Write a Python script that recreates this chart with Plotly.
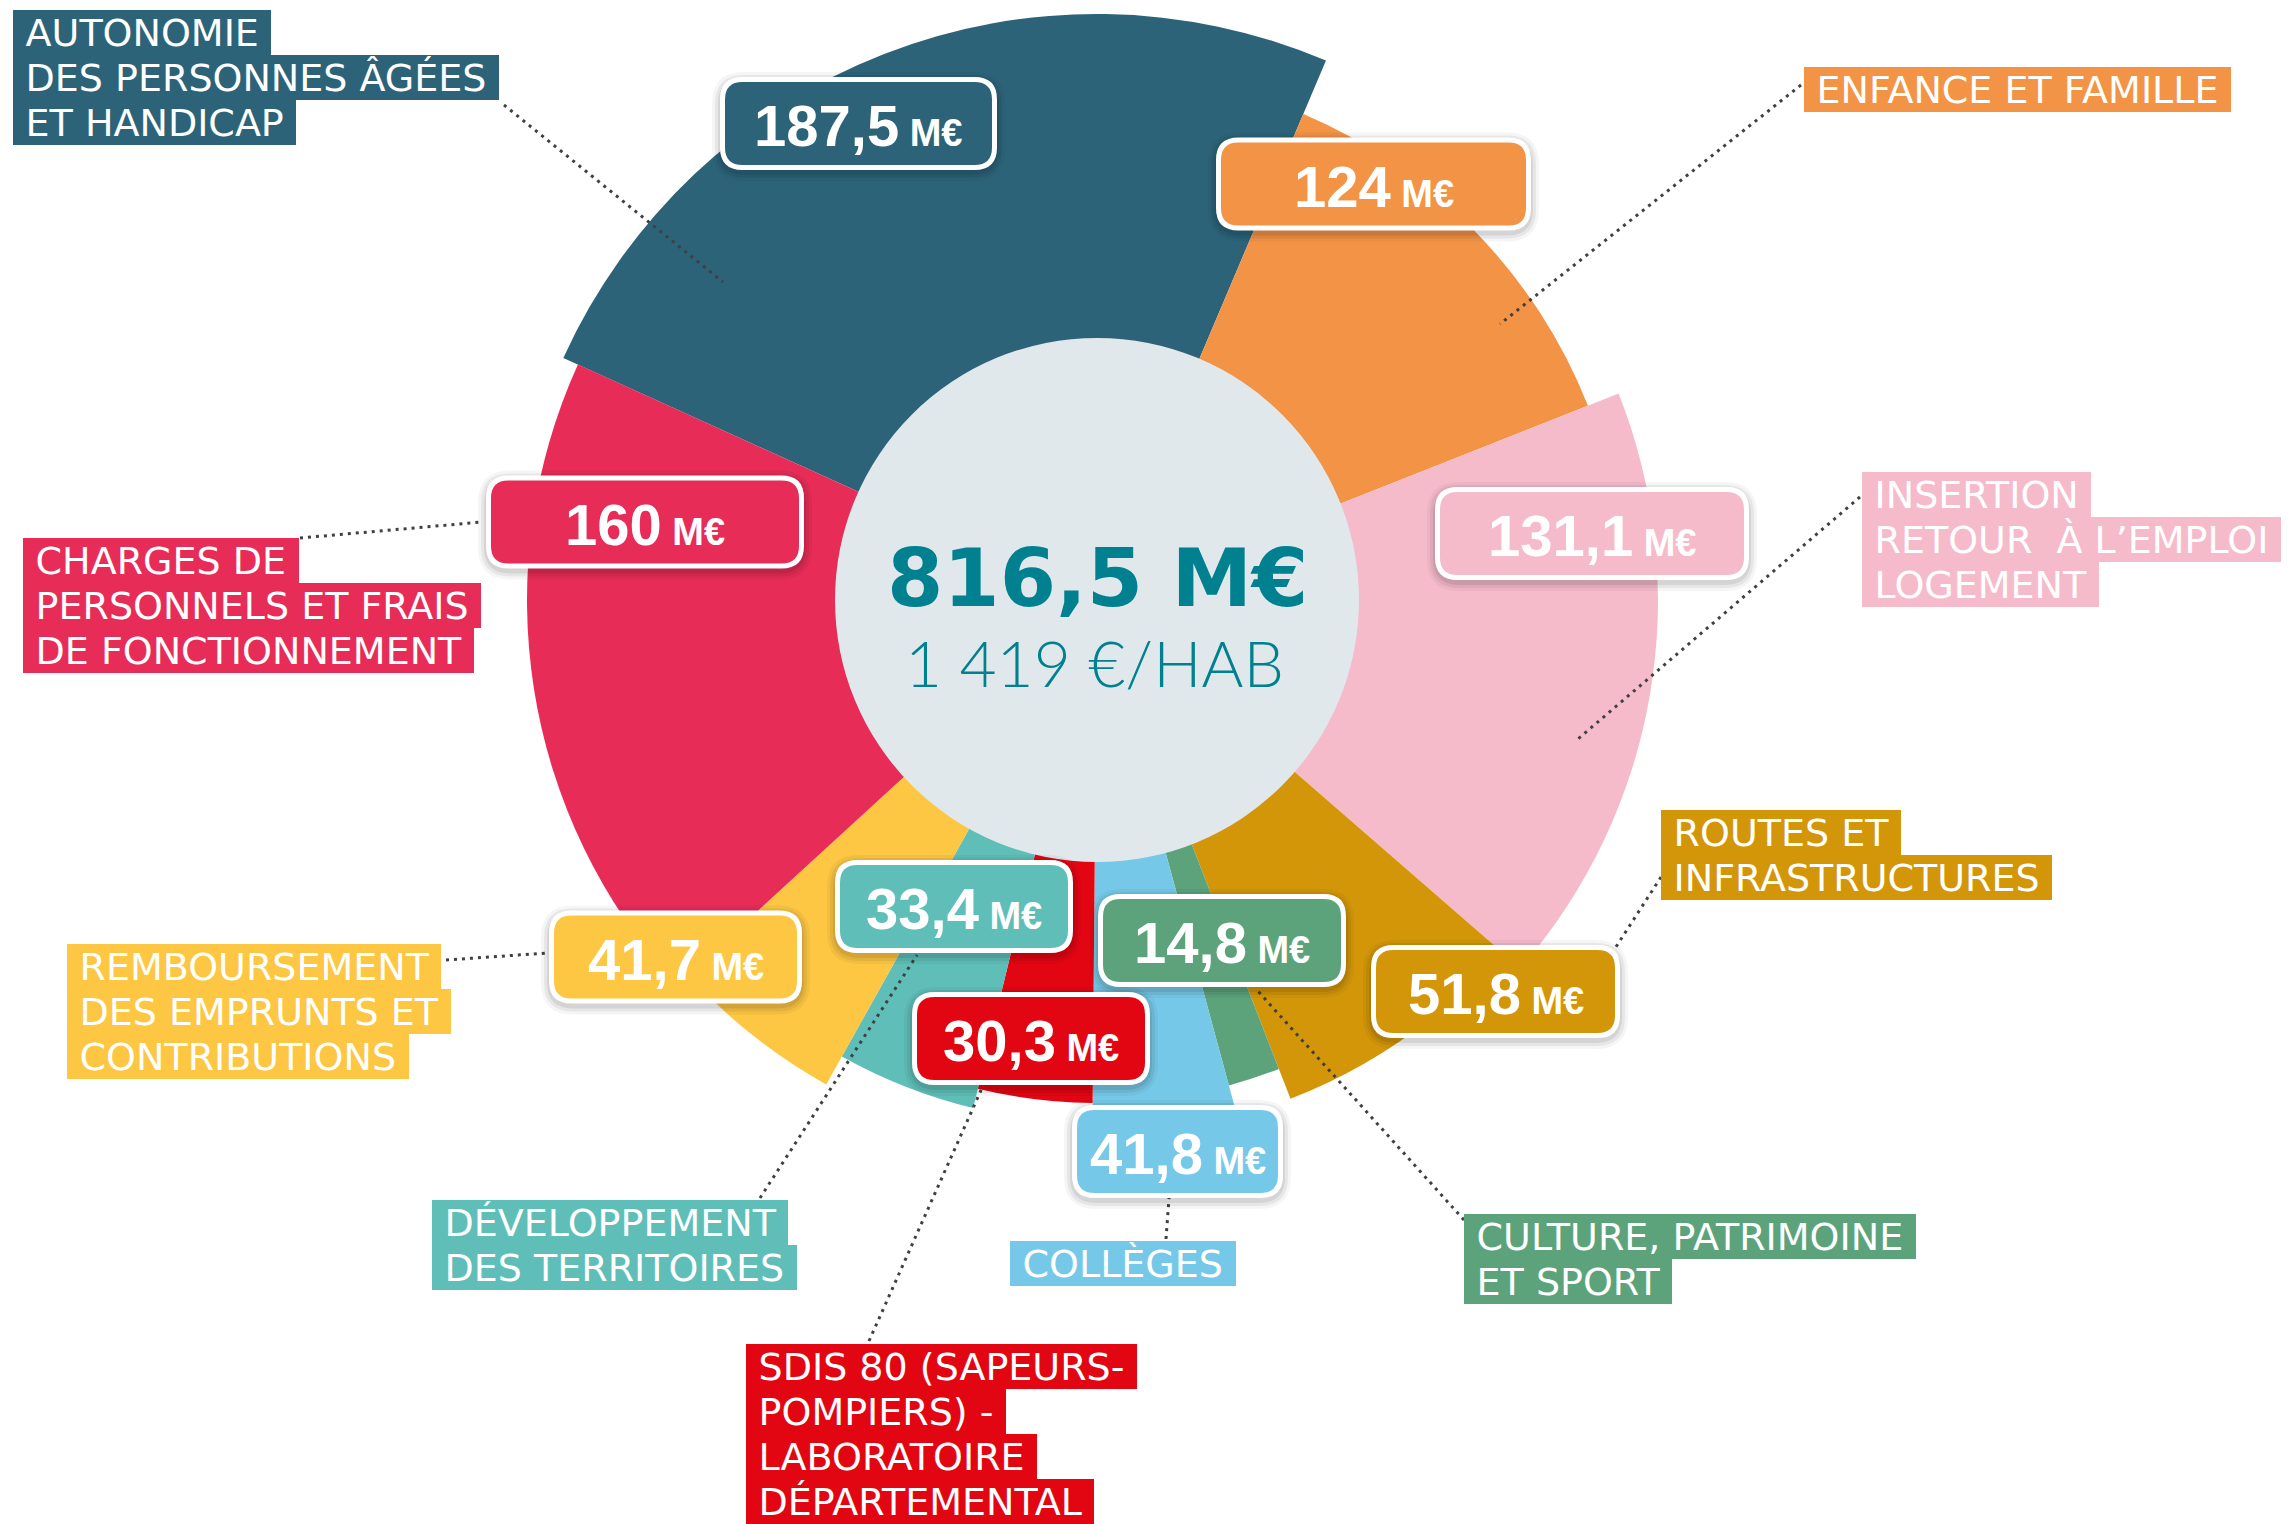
import numpy as np
import plotly.graph_objects as go

W, H = 2291, 1524

# ---------------- data ----------------
categories = [
    "Autonomie des personnes âgées et handicap",
    "Enfance et famille",
    "Insertion retour à l'emploi logement",
    "Routes et infrastructures",
    "Culture, patrimoine et sport",
    "Collèges",
    "SDIS 80 - Laboratoire départemental",
    "Développement des territoires",
    "Remboursement des emprunts et contributions",
    "Charges de personnels et frais de fonctionnement",
]
values_meur = [187.5, 124, 131.1, 51.8, 14.8, 41.8, 30.3, 33.4, 41.7, 160]
value_labels = ["187,5", "124", "131,1", "51,8", "14,8", "41,8", "30,3", "33,4", "41,7", "160"]
arc_span_deg = [88.6, 45.4, 62.6, 27.8, 6.0, 15.7, 13.2, 15.5, 18.3, 66.9]
petal_length = [586, 528, 561, 535, 503, 540, 503, 523, 555, 570]
label_lines = [
    ["AUTONOMIE", "DES PERSONNES ÂGÉES", "ET HANDICAP"],
    ["ENFANCE ET FAMILLE"],
    ["INSERTION", "RETOUR \u00a0À L’EMPLOI", "LOGEMENT"],
    ["ROUTES ET", "INFRASTRUCTURES"],
    ["CULTURE, PATRIMOINE", "ET SPORT"],
    ["COLLÈGES"],
    ["SDIS 80 (SAPEURS-", "POMPIERS) -", "LABORATOIRE", "DÉPARTEMENTAL"],
    ["DÉVELOPPEMENT", "DES TERRITOIRES"],
    ["REMBOURSEMENT", "DES EMPRUNTS ET", "CONTRIBUTIONS"],
    ["CHARGES DE", "PERSONNELS ET FRAIS", "DE FONCTIONNEMENT"],
]
total_label = "816,5 M€"
per_hab_label = "1 419 €/HAB"

# ---------------- styles / layout positions ----------------
colors = ["#2c6379", "#f29345", "#f5bbcb", "#d39609", "#5ca37c",
          "#76c8e8", "#e20613", "#5fbeb8", "#fdc643", "#e62c57"]
start_angle = 294.4
inner_disk_r = 262
disk_color = "#e0e8ec"
teal_text = "#01818f"

# value boxes: center x, center y, width (px)
value_box = [
    (858.5, 123.5, 277), (1373.5, 184, 315), (1592, 533.5, 314),
    (1495.5, 991.5, 249), (1222, 940.5, 248), (1177.5, 1151.5, 211),
    (1031, 1038.5, 238), (954, 906.5, 238), (675.5, 957, 253), (645, 522, 318),
]
BOX_H = 93
# category labels: left x, top y (px)
label_pos = [
    (13, 10), (1804, 67), (1862, 472), (1661, 810), (1464, 1214),
    (1010, 1241), (746, 1344), (432, 1200), (67, 944), (23, 538),
]
LINE_PITCH = 45
# leader lines (px)
leaders = [
    ((504, 105), (723, 282)),
    ((1801, 85), (1500, 324)),
    ((1860, 497), (1578, 739)),
    ((1661, 877), (1614, 950)),
    ((1464, 1220), (1256, 989)),
    ((1166, 1239), (1169, 1198)),
    ((869, 1341), (982, 1088)),
    ((760, 1198), (917, 955)),
    ((446, 960), (548, 953)),
    ((300, 538), (482, 522)),
]


def X(x):
    return x / W


def Y(y):
    return 1 - y / H


spans = np.array(arc_span_deg)
theta_centers = (start_angle + np.cumsum(spans) - spans / 2) % 360

fig = go.Figure()
fig.add_trace(go.Barpolar(
    r=petal_length, theta=theta_centers, width=arc_span_deg,
    marker=dict(color=colors, line=dict(width=0)),
    hoverinfo="skip", showlegend=False,
))
fig.add_trace(go.Barpolar(
    r=[inner_disk_r], theta=[0], width=[360],
    marker=dict(color=disk_color, line=dict(width=0)),
    hoverinfo="skip", showlegend=False,
))

R = 600
cx, cy = 1097, 600
fig.update_layout(
    width=W, height=H,
    margin=dict(l=0, r=0, t=0, b=0),
    paper_bgcolor="white",
    plot_bgcolor="white",
    showlegend=False,
    polar=dict(
        domain=dict(x=[X(cx - R), X(cx + R)], y=[Y(cy + R), Y(cy - R)]),
        bgcolor="rgba(0,0,0,0)",
        radialaxis=dict(visible=False, range=[0, R]),
        angularaxis=dict(visible=False, rotation=90, direction="clockwise"),
        bargap=0,
    ),
)

shapes = []
for (p0, p1) in leaders:
    shapes.append(dict(type="line", xref="paper", yref="paper",
                       x0=X(p0[0]), y0=Y(p0[1]), x1=X(p1[0]), y1=Y(p1[1]),
                       line=dict(color="#404040", width=3, dash="3px,5px"),
                       layer="above"))


def rrect(x0, y0, x1, y1, r):
    pts = [
        ("M", [(x0 + r, y0)]), ("L", [(x1 - r, y0)]), ("Q", [(x1, y0), (x1, y0 + r)]),
        ("L", [(x1, y1 - r)]), ("Q", [(x1, y1), (x1 - r, y1)]),
        ("L", [(x0 + r, y1)]), ("Q", [(x0, y1), (x0, y1 - r)]),
        ("L", [(x0, y0 + r)]), ("Q", [(x0, y0), (x0 + r, y0)]),
    ]
    s = ""
    for cmd, pl in pts:
        s += cmd + " " + " ".join(f"{X(px):.6f},{Y(py):.6f}" for px, py in pl) + " "
    return s + "Z"


annotations = []
for i, (bx, by, bw) in enumerate(value_box):
    x0, x1 = bx - bw / 2, bx + bw / 2
    y0, y1 = by - BOX_H / 2, by + BOX_H / 2
    # soft shadow
    for k, a in [(8, 0.04), (5, 0.06), (2, 0.08)]:
        shapes.append(dict(type="path", xref="paper", yref="paper",
                           path=rrect(x0 - k, y0 - k + 3, x1 + k, y1 + k + 3, 24 + k),
                           fillcolor=f"rgba(0,0,0,{a})", line=dict(width=0), layer="above"))
    shapes.append(dict(type="path", xref="paper", yref="paper",
                       path=rrect(x0 + 2.5, y0 + 2.5, x1 - 2.5, y1 - 2.5, 20),
                       fillcolor=colors[i], line=dict(color="white", width=5), layer="above"))
    annotations.append(dict(
        xref="paper", yref="paper", x=X(bx), y=Y(by + 2), xanchor="center", yanchor="middle",
        showarrow=False,
        text=f"<b>{value_labels[i]}<span style='font-size:38px'> M€</span></b>",
        font=dict(family="Liberation Sans Narrow, Liberation Sans, Arial",
                  size=58, color="white"),
    ))

for i, lines in enumerate(label_lines):
    lx, ly = label_pos[i]
    for j, line in enumerate(lines):
        annotations.append(dict(
            xref="paper", yref="paper", x=X(lx), y=Y(ly + j * LINE_PITCH),
            xanchor="left", yanchor="top", showarrow=False,
            text="\u00a0" + line + "\u00a0",
            font=dict(family="DejaVu Sans", size=38, color="white"),
            bgcolor=colors[i], borderpad=0.5, borderwidth=0,
        ))

annotations.append(dict(
    xref="paper", yref="paper", x=X(1097), y=Y(578), xanchor="center", yanchor="middle",
    showarrow=False, text=f"<b>{total_label}</b>",
    font=dict(family="DejaVu Sans", size=81, color=teal_text),
))
annotations.append(dict(
    xref="paper", yref="paper", x=X(1094), y=Y(662), xanchor="center", yanchor="middle",
    showarrow=False, text=per_hab_label,
    font=dict(family="Lato", size=64, color=teal_text, weight=300),
))

fig.update_layout(shapes=shapes, annotations=annotations)
fig.write_html("out.html", config={"displayModeBar": False},
               post_script="document.body.style.margin='0px';")
